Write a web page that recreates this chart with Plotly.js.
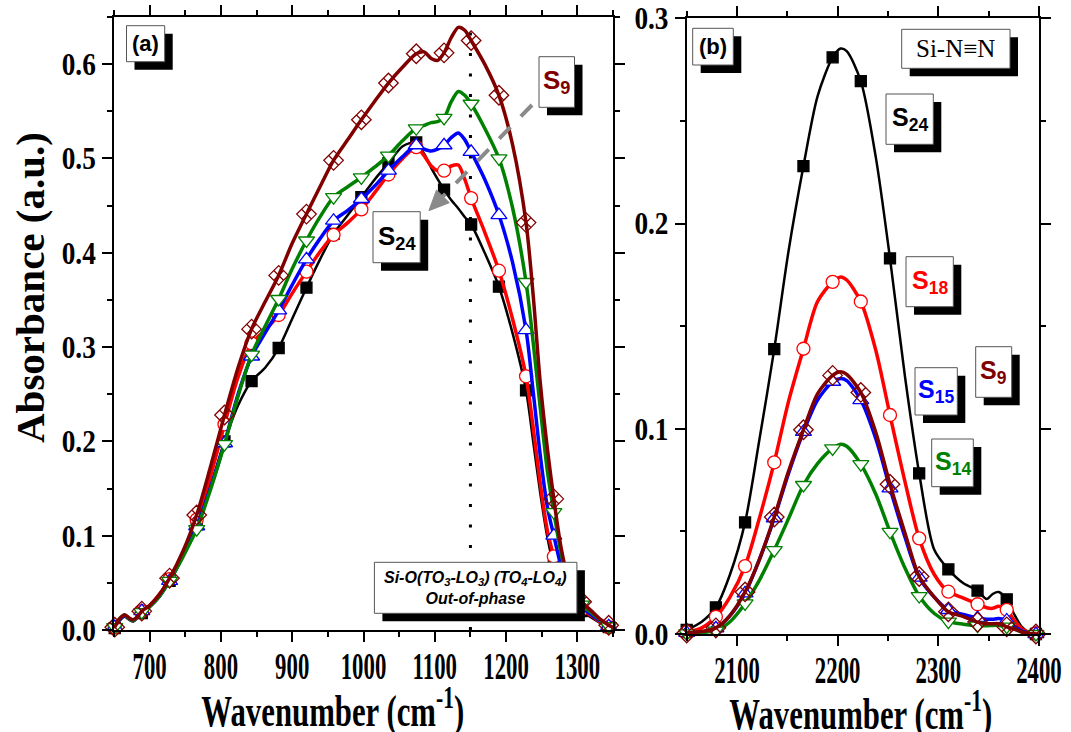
<!DOCTYPE html>
<html>
<head>
<meta charset="utf-8">
<script src="https://cdn.plot.ly/plotly-3.0.1.min.js"></script>
<style>
  html, body { margin: 0; padding: 0; background: #ffffff; }
  #chart { width: 1071px; height: 732px; }
</style>
</head>
<body>
<div id="chart"></div>
<script>
// ---------------- DATA ----------------
// Panel (a): Si-O band, wavenumber grid (cm-1)
const xA = [651, 658, 665, 671, 677, 683, 689, 700, 714, 728, 747, 766, 785, 805,
  824, 843, 862, 881, 900, 920, 939, 958, 978, 997, 1016, 1035, 1055, 1074,
  1085, 1095, 1104, 1113, 1123, 1133, 1142, 1151, 1170, 1190, 1209, 1228, 1238, 1248,
  1258, 1267, 1277, 1287, 1297, 1306, 1320, 1333, 1344, 1350];
const markA = [651, 689, 728, 766, 805, 843, 881, 920, 958, 997, 1035, 1074, 1113, 1151, 1190, 1228, 1267, 1306, 1344];

const S24a = [0.002, 0.010, 0.014, 0.011, 0.009, 0.013, 0.018,
  0.024, 0.036, 0.052, 0.078, 0.112, 0.152, 0.200,
  0.238, 0.264, 0.278, 0.299, 0.330, 0.363, 0.393,
  0.420, 0.440, 0.459, 0.478, 0.495, 0.513, 0.517,
  0.505, 0.490, 0.478, 0.467, 0.456, 0.447, 0.438,
  0.430, 0.400, 0.364, 0.315, 0.254, 0.200, 0.145,
  0.098, 0.068, 0.047, 0.033, 0.025, 0.020, 0.013,
  0.007, 0.003, 0.001];
const S18a = [0.003, 0.012, 0.016, 0.012, 0.010, 0.014, 0.020,
  0.026, 0.038, 0.054, 0.081, 0.117, 0.162, 0.218,
  0.268, 0.304, 0.318, 0.334, 0.357, 0.380, 0.401,
  0.419, 0.432, 0.446, 0.464, 0.483, 0.500, 0.512,
  0.503, 0.492, 0.487, 0.487, 0.492, 0.493, 0.478,
  0.458, 0.422, 0.381, 0.330, 0.269, 0.215, 0.155,
  0.105, 0.078, 0.053, 0.037, 0.027, 0.022, 0.015,
  0.008, 0.003, 0.001];
const S15a = [0.003, 0.011, 0.015, 0.012, 0.010, 0.014, 0.020,
  0.025, 0.036, 0.052, 0.079, 0.110, 0.150, 0.198,
  0.250, 0.290, 0.315, 0.339, 0.366, 0.393, 0.415,
  0.434, 0.445, 0.457, 0.471, 0.487, 0.502, 0.514,
  0.510, 0.508, 0.510, 0.514, 0.522, 0.527, 0.520,
  0.507, 0.478, 0.440, 0.390, 0.318, 0.253, 0.185,
  0.130, 0.100, 0.068, 0.045, 0.031, 0.024, 0.016,
  0.009, 0.004, 0.002];
const S14a = [0.003, 0.012, 0.016, 0.012, 0.010, 0.014, 0.019,
  0.025, 0.036, 0.052, 0.078, 0.107, 0.148, 0.197,
  0.248, 0.292, 0.322, 0.351, 0.383, 0.413, 0.438,
  0.459, 0.470, 0.480, 0.491, 0.503, 0.519, 0.532,
  0.535, 0.538, 0.539, 0.543, 0.560, 0.571, 0.567,
  0.558, 0.532, 0.500, 0.448, 0.369, 0.305, 0.235,
  0.168, 0.125, 0.082, 0.051, 0.035, 0.027, 0.018,
  0.010, 0.004, 0.002];
const S9a = [0.003, 0.012, 0.016, 0.013, 0.011, 0.014, 0.020,
  0.026, 0.038, 0.055, 0.084, 0.122, 0.172, 0.228,
  0.278, 0.319, 0.348, 0.376, 0.410, 0.441, 0.470,
  0.498, 0.520, 0.541, 0.561, 0.580, 0.597, 0.611,
  0.613, 0.606, 0.604, 0.612, 0.628, 0.639, 0.636,
  0.625, 0.600, 0.567, 0.515, 0.432, 0.355, 0.262,
  0.192, 0.139, 0.088, 0.055, 0.038, 0.030, 0.020,
  0.011, 0.005, 0.003];

// Panel (b): Si-N≡N band
const xB = [2050, 2065, 2079, 2093, 2108, 2122, 2137, 2151, 2166, 2180, 2195, 2203, 2209,
  2223, 2238, 2252, 2267, 2281, 2296, 2310, 2325, 2339, 2348, 2354, 2360, 2368, 2375,
  2383, 2390, 2397, 2400];
const markB = [2050, 2079, 2108, 2137, 2166, 2195, 2223, 2252, 2281, 2310, 2339, 2368, 2397];

const S24b = [0.002, 0.006, 0.013, 0.029, 0.0544, 0.094, 0.1388, 0.186, 0.228, 0.262, 0.281, 0.2853, 0.284,
  0.2694, 0.232, 0.183, 0.125, 0.0783, 0.041, 0.0315, 0.0247, 0.0211, 0.0170, 0.0195, 0.0205, 0.0169, 0.010,
  0.0035, 0.0008, 0.0, 0.0];
const S18b = [0.001, 0.003, 0.0084, 0.018, 0.0331, 0.056, 0.0836, 0.113, 0.139, 0.162, 0.1716, 0.174, 0.1725,
  0.162, 0.138, 0.1067, 0.074, 0.0466, 0.029, 0.0206, 0.0175, 0.0145, 0.0128, 0.0125, 0.0135, 0.0118, 0.007,
  0.0025, 0.0008, 0.0003, 0.0];
const S15b = [0.0005, 0.001, 0.0028, 0.009, 0.0198, 0.036, 0.0564, 0.078, 0.0985, 0.114, 0.1229, 0.1245, 0.1235,
  0.114, 0.095, 0.071, 0.047, 0.0275, 0.018, 0.0117, 0.0095, 0.0078, 0.0072, 0.0072, 0.0075, 0.0066, 0.004,
  0.0015, 0.0005, 0.0, 0.0];
const S9b = [0.0005, 0.0012, 0.003, 0.009, 0.0205, 0.036, 0.057, 0.079, 0.0995, 0.117, 0.126, 0.1278, 0.1265,
  0.1177, 0.098, 0.073, 0.049, 0.028, 0.018, 0.0108, 0.0085, 0.0058, 0.005, 0.005, 0.005, 0.0035, 0.0025,
  0.001, 0.0003, 0.0, 0.0];
const S14b = [0.0003, 0.0008, 0.0016, 0.006, 0.0149, 0.026, 0.0409, 0.056, 0.0726, 0.083, 0.0904, 0.0925, 0.0915,
  0.0828, 0.068, 0.0498, 0.032, 0.0185, 0.010, 0.006, 0.0048, 0.0041, 0.004, 0.0042, 0.0042, 0.0036, 0.0025,
  0.001, 0.0003, 0.0, 0.0];

const seriesNames = ['S24', 'S18', 'S15', 'S14', 'S9'];
const peakLineA = 1150;
const ticksXA = [700, 800, 900, 1000, 1100, 1200, 1300];
const ticksXB = [2100, 2200, 2300, 2400];
const ticksYA = [0.0, 0.1, 0.2, 0.3, 0.4, 0.5, 0.6];
const ticksYB = [0.0, 0.1, 0.2, 0.3];

// ---------------- STYLE ----------------
const STY = {
  S24: { color: '#000000', symbol: 'square', fill: '#000000', size: 11, lw: 2.5 },
  S18: { color: '#ff0000', symbol: 'circle', fill: '#ffffff', size: 13, lw: 3.5 },
  S15: { color: '#0000ff', symbol: 'triangle-up', fill: '#ffffff', size: 14, lw: 3.5 },
  S14: { color: '#008000', symbol: 'triangle-down', fill: '#ffffff', size: 14, lw: 3.5 },
  S9:  { color: '#800000', symbol: 'diamond-x-open', fill: '#800000', size: 15, lw: 3.5 }
};

const W = 1071, H = 732, M = { l: 114, r: 32, t: 17, b: 98 };
const PW = W - M.l - M.r, PH = H - M.t - M.b;
const px = v => (v - M.l) / PW;
const py = v => (H - M.b - v) / PH;

const traces = [];
function addSeries(name, x, y, marks, xa, ya) {
  const s = STY[name];
  traces.push({ type: 'scatter', mode: 'lines', x: x, y: y, xaxis: xa, yaxis: ya,
    line: { color: s.color, width: s.lw, shape: 'spline', smoothing: 0.8 },
    hoverinfo: 'skip', showlegend: false });
  const mx = marks.filter(m => x.indexOf(m) >= 0);
  const my = mx.map(m => y[x.indexOf(m)]);
  traces.push({ type: 'scatter', mode: 'markers', x: mx, y: my, xaxis: xa, yaxis: ya,
    marker: { symbol: s.symbol, size: s.size, color: s.fill, line: { color: s.color, width: 1.3 } },
    showlegend: false, cliponaxis: false });
}
const dataA = { S24: S24a, S18: S18a, S15: S15a, S14: S14a, S9: S9a };
const dataB = { S24: S24b, S18: S18b, S15: S15b, S14: S14b, S9: S9b };
seriesNames.forEach(n => addSeries(n, xA, dataA[n], markA, 'x', 'y'));
seriesNames.forEach(n => addSeries(n, xB, dataB[n], markB, 'x2', 'y2'));

// ---------------- LAYOUT ----------------
const tickFontX = { family: 'Liberation Serif', size: 38, weight: 'bold', color: '#000' };
const tickFontY = { family: 'Liberation Serif', size: 31, weight: 'bold', color: '#000' };
const minorT = (d) => ({ dtick: d, ticklen: 5, tickwidth: 2, ticks: 'outside', tickcolor: '#000' });
function axis(extra) {
  return Object.assign({
    showline: true, linecolor: '#000', linewidth: 2, mirror: 'ticks',
    ticks: 'outside', ticklen: 10, tickwidth: 2, tickcolor: '#000',
    showgrid: false, zeroline: false, fixedrange: true, tickmode: 'array',
    ticklabeloverflow: 'allow'
  }, extra);
}

const shapes = [];
function box(x0, y0, x1, y1, off) {
  shapes.push({ type: 'rect', xref: 'paper', yref: 'paper', layer: 'above',
    x0: px(x0 + off), x1: px(x1 + off), y0: py(y1 + off), y1: py(y0 + off),
    fillcolor: '#000', line: { width: 0 } });
  shapes.push({ type: 'rect', xref: 'paper', yref: 'paper', layer: 'above',
    x0: px(x0), x1: px(x1), y0: py(y1), y1: py(y0),
    fillcolor: '#fff', line: { color: '#555', width: 1 } });
}
// dotted vertical marker line in (a)
shapes.push({ type: 'line', xref: 'x', yref: 'y', layer: 'below', x0: peakLineA, x1: peakLineA, y0: 0, y1: 0.645,
  line: { color: '#000', width: 3, dash: '3px,17.5px' } });
// dashed gray arrow in (a)
shapes.push({ type: 'line', xref: 'paper', yref: 'paper', layer: 'above',
  x0: px(532), y0: py(105), x1: px(443), y1: py(196.4),
  line: { color: '#8a8a8a', width: 4, dash: '16px,15px' } });
shapes.push({ type: 'path', xref: 'paper', yref: 'paper', layer: 'above',
  path: `M ${px(428.9)} ${py(210.7)} L ${px(449.3)} ${py(202.7)} L ${px(436.5)} ${py(190.1)} Z`,
  fillcolor: '#8a8a8a', line: { color: '#8a8a8a', width: 1 } });

const annotations = [];
function label(x0, y0, x1, y1, text, font, off) {
  box(x0, y0, x1, y1, off === undefined ? 8 : off);
  annotations.push({ xref: 'paper', yref: 'paper', x: px((x0 + x1) / 2), y: py((y0 + y1) / 2),
    xanchor: 'center', yanchor: 'middle', showarrow: false, text: text, font: font });
}
const sansB = (size, color) => ({ family: 'Liberation Sans', size: size, weight: 'bold', color: color });

label(126.5, 25.7, 164.7, 61.7, '(a)', sansB(22, '#000'));
label(539, 56.7, 574.5, 107.3, 'S<sub>9</sub>', sansB(26, STY.S9.color));
label(373, 211.7, 420.2, 262.7, 'S<sub>24</sub>', sansB(26, '#000'));
label(374.4, 562.3, 576.9, 613.3,
  'Si-O(TO<sub>3</sub>-LO<sub>3</sub>) (TO<sub>4</sub>-LO<sub>4</sub>)<br>Out-of-phase',
  { family: 'Liberation Sans', size: 16, weight: 'bold', style: 'italic', color: '#000' });

label(692.7, 28.3, 733.3, 65, '(b)', sansB(22, '#000'));
label(901.7, 29.3, 1010, 68.3, 'Si-N≡N', { family: 'Liberation Serif', size: 25, color: '#000' });
label(886, 94, 933.3, 144.3, 'S<sub>24</sub>', sansB(25, '#000'));
label(906, 256.7, 953.3, 306.7, 'S<sub>18</sub>', sansB(25, STY.S18.color));
label(915, 367.7, 957.3, 415, 'S<sub>15</sub>', sansB(25, STY.S15.color));
label(975.7, 346.7, 1011.7, 397.3, 'S<sub>9</sub>', sansB(25, STY.S9.color));
label(931.7, 439, 973.3, 486.7, 'S<sub>14</sub>', sansB(25, STY.S14.color));

const titleFont = { family: 'Liberation Serif', size: 44, weight: 'bold', color: '#000' };
const titleIdx = [];
titleIdx.push(annotations.length);
annotations.push({ xref: 'paper', yref: 'paper', x: px(333), y: py(708), xanchor: 'center', yanchor: 'middle',
  showarrow: false, text: 'Wavenumber (cm<sup>-1</sup>)', font: titleFont });
titleIdx.push(annotations.length);
annotations.push({ xref: 'paper', yref: 'paper', x: px(861), y: py(711), xanchor: 'center', yanchor: 'middle',
  showarrow: false, text: 'Wavenumber (cm<sup>-1</sup>)', font: titleFont });
annotations.push({ xref: 'paper', yref: 'paper', x: px(30), y: py(288), xanchor: 'center', yanchor: 'middle',
  showarrow: false, textangle: -90, text: 'Absorbance (a.u.)',
  font: { family: 'Liberation Serif', size: 41, weight: 'bold', color: '#000' } });

const layout = {
  width: W, height: H, margin: M, paper_bgcolor: '#fff', plot_bgcolor: '#fff', showlegend: false,
  xaxis: axis({ domain: [0, px(613)], range: [650, 1350], tickvals: ticksXA, ticktext: ticksXA.map(String),
    tickangle: 0, anchor: 'y', tickfont: tickFontX, minor: minorT(50) }),
  yaxis: axis({ domain: [py(630), 1], range: [0, 0.65], tickvals: ticksYA, ticktext: ticksYA.map(v => v.toFixed(1)),
    anchor: 'x', tickfont: tickFontY, minor: minorT(0.05) }),
  xaxis2: axis({ domain: [px(686.7), 1], range: [2050, 2400.05], tickvals: ticksXB, ticktext: ticksXB.map(String),
    tickangle: 0, anchor: 'y2', tickfont: tickFontX, minor: minorT(50) }),
  yaxis2: axis({ domain: [0, py(18.3)], range: [0, 0.3], tickvals: ticksYB, ticktext: ticksYB.map(v => v.toFixed(1)),
    anchor: 'x2', tickfont: tickFontY, minor: minorT(0.05) }),
  shapes: shapes, annotations: annotations
};

// condense selected text horizontally (the reference uses narrow glyphs)
function condense(el, s, dy) {
  const bb = el.getBBox();
  const anchor = el.getAttribute('text-anchor') || 'start';
  let cx = bb.x + bb.width / 2;
  if (anchor === 'end') cx = bb.x + bb.width;
  if (anchor === 'start') cx = bb.x;
  const t = el.getAttribute('transform') || '';
  el.setAttribute('transform', t + ` translate(${cx},${dy || 0}) scale(${s},1) translate(${-cx},0)`);
}

Plotly.newPlot('chart', traces, layout, { staticPlot: true }).then(gd => {
  gd.querySelectorAll('.xtick text, .x2tick text').forEach(el => condense(el, 0.6, -9));
  gd.querySelectorAll('.ytick text, .y2tick text').forEach(el => condense(el, 0.88, 0));
  titleIdx.forEach(i => {
    const t = gd.querySelector(`.annotation[data-index="${i}"] text`);
    if (t) condense(t, 0.7, 0);
  });
});
</script>
</body>
</html>
